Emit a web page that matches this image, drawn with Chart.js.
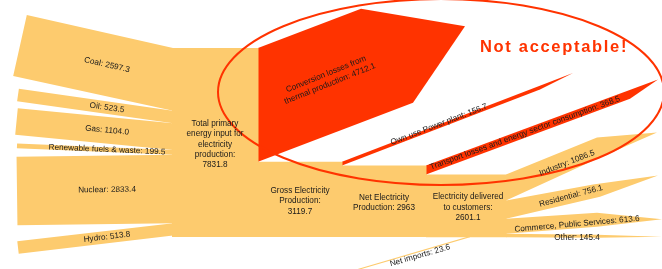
<!DOCTYPE html>
<html>
<head>
<meta charset="utf-8">
<script src="https://cdn.jsdelivr.net/npm/chart.js@4.4.1/dist/chart.umd.min.js"></script>
<style>
  html, body { margin: 0; padding: 0; background: #fff; }
  #wrap { width: 662px; height: 269px; }
</style>
</head>
<body>
<div id="wrap"><canvas id="sankey"></canvas></div>
<script>
// values
var sourceLabels = ["Coal", "Oil", "Gas", "Renewable fuels & waste", "Nuclear", "Hydro"];
var sourceValues = [2597.3, 523.5, 1104.0, 199.5, 2833.4, 513.8];
var totalPrimary = 7831.8;
var conversionLosses = 4712.1;
var grossProduction = 3119.7;
var ownUse = 156.7;
var netProduction = 2963;
var transportLosses = 368.5;
var netImports = 23.6;
var delivered = 2601.1;
var useLabels = ["Industry", "Residential", "Commerce, Public Services", "Other"];
var useValues = [1086.5, 756.1, 613.6, 145.4];

// layout (in px of the 662x269 picture)
var colTop = 48, colHeight = 189;
var k = colHeight / totalPrimary;
var colX = [172, 258, 342, 426, 506];
var sourceStart = [[20, 45.5], [18, 95], [16.5, 121.5], [17, 145.8], [17, 191], [18, 247.5]];
// xKink, riseTop, xTip, riseTip, xKinkBottom, riseBottom
var useShape = [[597, 37, 657, 42, 600, 43], [593, 16, 658, 25, 600, 22], [597, 6, 662, -0.4, 597, 7], [597, -1, 662, -3, 597, -0.6]];
var useLabelPos = [[567, 163, -21], [571, 196, -15], [577, 224, -5], [577, 237.5, 0]];

var orange = "#FDCB6E", red = "#FF3300";

function pt(x, y) { return { x: x, y: y }; }

var shapes = [];
var labels = [];

// primary sources
var y = colTop;
for (var i = 0; i < sourceValues.length; i++) {
  var t = sourceValues[i] * k;
  var lc = sourceStart[i];
  var dx = colX[0] - lc[0], dy = y + t / 2 - lc[1];
  var len = Math.sqrt(dx * dx + dy * dy);
  var nx = -dy / len * t / 2, ny = dx / len * t / 2;
  shapes.push({ color: orange, pts: [pt(lc[0] - nx, lc[1] - ny), pt(colX[0] + 1, y), pt(colX[0] + 1, y + t), pt(lc[0] + nx, lc[1] + ny)] });
  var f = (107 - lc[0]) / dx;
  labels.push({ lines: [sourceLabels[i] + ": " + sourceValues[i].toFixed(1)], x: 107, y: lc[1] + dy * f, angle: Math.atan2(dy, dx) * 180 / Math.PI });
  y += t;
}

function rect(x0, x1, y0, y1, color) {
  shapes.push({ color: color, pts: [pt(x0, y0), pt(x1, y0), pt(x1, y1), pt(x0, y1)] });
}

// thin flow that runs off at a slope and ends in a point
function wedge(x0, yTop, t, slope, xPar, xTip, color) {
  shapes.push({ color: color, pts: [pt(x0, yTop), pt(xTip, yTop + slope * (xTip - x0)),
    pt(xPar, yTop + t + slope * (xPar - x0)), pt(x0, yTop + t)] });
}

// total primary input block
rect(colX[0], colX[1] + 0.5, colTop, colTop + totalPrimary * k, orange);
labels.push({ lines: ["Total primary", "energy input for", "electricity", "production:", String(totalPrimary)], x: (colX[0] + colX[1]) / 2, y: 144.5, angle: 0 });

// conversion losses arrow
var tc = conversionLosses * k, s = -0.38;
var B = pt(colX[1] + 103, colTop + s * 103);
var D = pt(colX[1] + 155, colTop + tc + s * 155);
var tip = pt((B.x + D.x) / 2 + 78, (B.y + D.y) / 2 + 78 * s);
shapes.push({ color: red, pts: [pt(colX[1], colTop), B, tip, D, pt(colX[1], colTop + tc)] });
labels.push({ lines: ["Conversion losses from", "thermal production: " + conversionLosses], x: 328, y: 79, angle: -22 });

// gross production
var grossTop = colTop + tc;
rect(colX[1], colX[2] + 0.5, grossTop, grossTop + grossProduction * k, orange);
labels.push({ lines: ["Gross Electricity", "Production:", String(grossProduction)], x: (colX[1] + colX[2]) / 2, y: 201, angle: 0 });

wedge(colX[2], grossTop, ownUse * k, -0.384, 540, 573, red);
labels.push({ lines: ["Own use Power plant: " + ownUse], x: 439, y: 124.5, angle: -21 });

// net production
var netTop = grossTop + ownUse * k;
rect(colX[2], colX[3] + 0.5, netTop, netTop + netProduction * k, orange);
labels.push({ lines: ["Net Electricity", "Production: " + netProduction], x: (colX[2] + colX[3]) / 2, y: 203, angle: 0 });

wedge(colX[3], netTop, transportLosses * k, -0.371, 630, 658, red);
labels.push({ lines: ["Transport losses and energy sector consumption: " + transportLosses], x: 525, y: 133, angle: -20 });

// delivered
var delTop = netTop + transportLosses * k;
var delBottom = delTop + delivered * k;
rect(colX[3], colX[4] + 0.5, delTop, delBottom, orange);
labels.push({ lines: ["Electricity delivered", "to customers:", String(delivered)], x: 468, y: 207.5, angle: 0 });

// net imports
var ti = Math.max(netImports * k, 1.1);
shapes.push({ color: orange, pts: [pt(470, delBottom - ti), pt(470, delBottom), pt(356, 269.5 + ti), pt(356, 269.5)] });
labels.push({ lines: ["Net imports: " + netImports], x: 420, y: 255.5, angle: -16 });

// final uses
y = delTop;
for (var j = 0; j < useValues.length; j++) {
  var tu = useValues[j] * k, u = useShape[j];
  shapes.push({ color: orange, pts: [pt(colX[4], y), pt(u[0], y - u[1]), pt(u[2], y - u[3]), pt(u[4], y + tu - u[5]), pt(colX[4], y + tu)] });
  labels.push({ lines: [useLabels[j] + ": " + useValues[j]], x: useLabelPos[j][0], y: useLabelPos[j][1], angle: useLabelPos[j][2] });
  y += tu;
}

var overlay = {
  id: "overlay",
  afterDatasetsDraw: function (chart) {
    var ctx = chart.ctx;
    var sx = function (v) { return chart.scales.x.getPixelForValue(v); };
    var sy = function (v) { return chart.scales.y.getPixelForValue(v); };
    ctx.save();
    // ring round the losses
    ctx.strokeStyle = red;
    ctx.lineWidth = 2;
    ctx.beginPath();
    ctx.ellipse(sx(441), sy(92), sx(223) - sx(0), sy(93) - sy(0), 0, 0, Math.PI * 2);
    ctx.stroke();

    ctx.fillStyle = "#1a1a1a";
    ctx.font = "8.2px 'Liberation Sans', Arial, sans-serif";
    ctx.textAlign = "center";
    ctx.textBaseline = "middle";
    labels.forEach(function (l) {
      ctx.save();
      ctx.translate(sx(l.x), sy(l.y));
      ctx.rotate(l.angle * Math.PI / 180);
      var n = l.lines.length;
      l.lines.forEach(function (line, m) {
        ctx.fillText(line, 0, (m - (n - 1) / 2) * 10.3);
      });
      ctx.restore();
    });

    ctx.fillStyle = red;
    ctx.font = "bold 16.5px 'Liberation Sans', Arial, sans-serif";
    ctx.textAlign = "left";
    ctx.textBaseline = "alphabetic";
    var msg = "Not acceptable!";
    var w = ctx.measureText(msg).width;
    if ("letterSpacing" in ctx) ctx.letterSpacing = ((148 - w) / msg.length).toFixed(2) + "px";
    ctx.fillText(msg, sx(480), sy(52));
    ctx.restore();
  }
};

new Chart(document.getElementById("sankey"), {
  type: "scatter",
  data: {
    datasets: shapes.map(function (sh) {
      return {
        data: sh.pts.concat([sh.pts[0]]),
        showLine: true,
        fill: "shape",
        backgroundColor: sh.color,
        borderColor: sh.color,
        borderWidth: 0,
        pointRadius: 0,
        pointHoverRadius: 0,
        tension: 0
      };
    })
  },
  options: {
    responsive: true,
    maintainAspectRatio: false,
    animation: false,
    events: [],
    layout: { padding: 0 },
    plugins: { legend: { display: false }, tooltip: { enabled: false } },
    scales: {
      x: { type: "linear", min: 0, max: 662, display: false },
      y: { type: "linear", min: 0, max: 269, reverse: true, display: false }
    }
  },
  plugins: [overlay]
});
</script>
</body>
</html>
